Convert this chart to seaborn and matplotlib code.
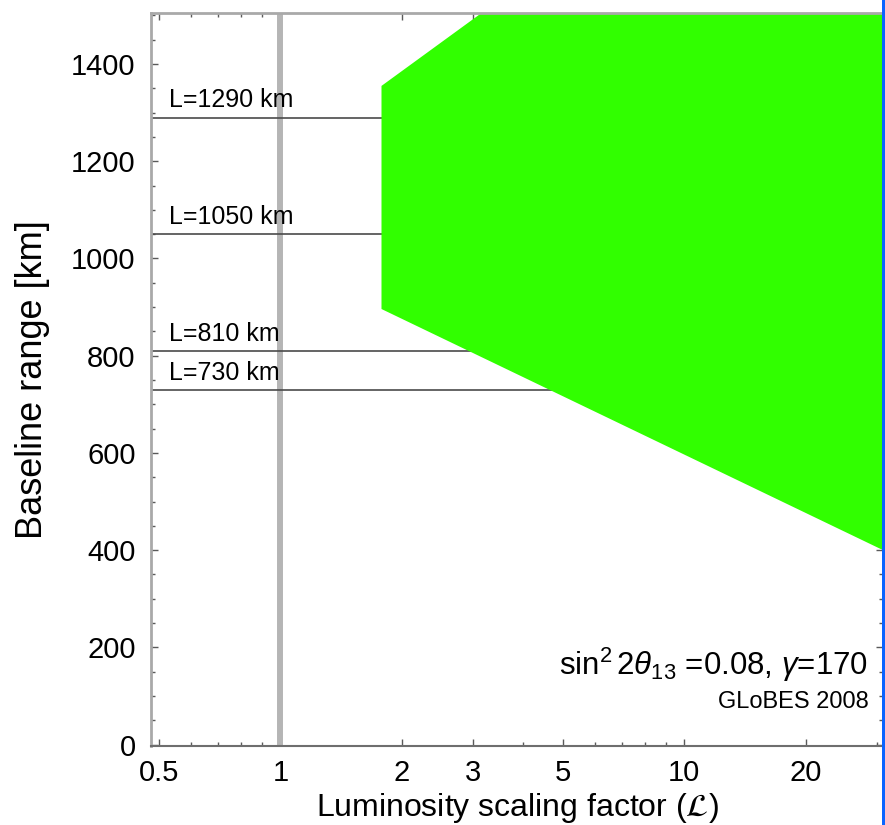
import matplotlib
matplotlib.use("Agg")
import matplotlib.pyplot as plt
from matplotlib.ticker import FixedLocator, FixedFormatter, MultipleLocator
from matplotlib.patches import Rectangle
import numpy as np
import pandas as pd
import seaborn as sns

# Reference baselines [km] and their labels
baselines = [1290, 1050, 810, 730]
baseline_labels = ["L=1290 km", "L=1050 km", "L=810 km", "L=730 km"]

# Boundary of the allowed region (luminosity factor vs. baseline [km])
region_lum = [1.78, 1.78, 3.15, 31.1, 31.1]
region_baseline = [896, 1355, 1505, 1505, 400]

# Nominal luminosity
nominal_lum = 1.0

# Axis ticks
x_major = [0.5, 1, 2, 3, 5, 10, 20]
x_major_labels = ["0.5", "1", "2", "3", "5", "10", "20"]
x_minor = [0.6, 0.7, 0.8, 0.9, 4, 6, 7, 8, 9, 30]
y_major = [0, 200, 400, 600, 800, 1000, 1200, 1400]

sns.set_style("ticks")
plt.rcParams["font.family"] = ["Liberation Sans", "DejaVu Sans"]
plt.rcParams["mathtext.fontset"] = "custom"
plt.rcParams["mathtext.rm"] = "Liberation Sans"
plt.rcParams["mathtext.it"] = "Liberation Sans:italic"
plt.rcParams["text.color"] = "black"
plt.rcParams["axes.labelcolor"] = "black"

W, H = 885, 825
fig = plt.figure(figsize=(W / 100, H / 100), dpi=100)
ax = fig.add_axes([151 / W, 1 - 746 / H, (883 - 151) / W, (746 - 13) / H])
ax.set_xscale("log")
xlim = (0.478, 31.1)
ax.set_xlim(*xlim)
ax.set_ylim(-3, 1505)

# Baseline reference lines
line_df = pd.DataFrame({
    "lum": np.tile(xlim, len(baselines)),
    "L": np.repeat(baselines, 2),
    "label": np.repeat(baseline_labels, 2),
})
sns.lineplot(data=line_df, x="lum", y="L", units="label", estimator=None,
             color="#4a4a4a", linewidth=1.2, ax=ax, zorder=2, legend=False)

for L, lab in zip(baselines, baseline_labels):
    ax.text(0.529, L + 21, lab, fontsize=18, color="black",
            ha="left", va="baseline", zorder=4)

# Nominal luminosity marker
ax.axvline(nominal_lum, color="#b5b5b5", linewidth=4.3, zorder=1)

# Allowed region
ax.fill(region_lum, region_baseline, color="#31ff00", linewidth=0, zorder=3)

# Ticks
ax.xaxis.set_major_locator(FixedLocator(x_major))
ax.xaxis.set_major_formatter(FixedFormatter(x_major_labels))
ax.xaxis.set_minor_locator(FixedLocator(x_minor))
ax.xaxis.set_minor_formatter(FixedFormatter([""] * len(x_minor)))
ax.yaxis.set_major_locator(FixedLocator(y_major))
ax.yaxis.set_minor_locator(MultipleLocator(50))

ax.tick_params(which="both", direction="in", top=True, right=True,
               color="#5a5a5a", width=1.0, labelsize=21, labelcolor="black")
ax.tick_params(which="major", length=5)
ax.tick_params(which="minor", length=3)
ax.tick_params(axis="x", which="major", pad=9.5)
ax.tick_params(axis="y", which="major", pad=11)

for side in ["left", "top", "right"]:
    ax.spines[side].set_color("#a9a9a9")
    ax.spines[side].set_linewidth(2.0)
ax.spines["bottom"].set_color("#6e6e6e")
ax.spines["bottom"].set_linewidth(1.5)
for s in ax.spines.values():
    s.set_zorder(5)

ax.set_xlabel(r"Luminosity scaling factor ($\mathcal{L}$)", fontsize=23,
              math_fontfamily="stix")
ax.set_ylabel("Baseline range [km]", fontsize=26)
ax.xaxis.set_label_coords(0.501, (746 - 791) / 733)
ax.yaxis.set_label_coords((50 - 151) / 732, 0.5)

ax.text(28.6, 143, r"sin$^2\,2\theta_{13}$ =0.08, $\gamma$=170", fontsize=22.5,
        ha="right", va="baseline", zorder=4)
ax.text(28.6, 75, "GLoBES 2008", fontsize=17, ha="right", va="baseline",
        zorder=4)

# Right-hand border strip
fig.patches.append(Rectangle((882 / W, 0), 3 / W, 1, transform=fig.transFigure,
                             facecolor="#0a64ff", edgecolor="none", zorder=10))

fig.savefig("out.png", dpi=100)
